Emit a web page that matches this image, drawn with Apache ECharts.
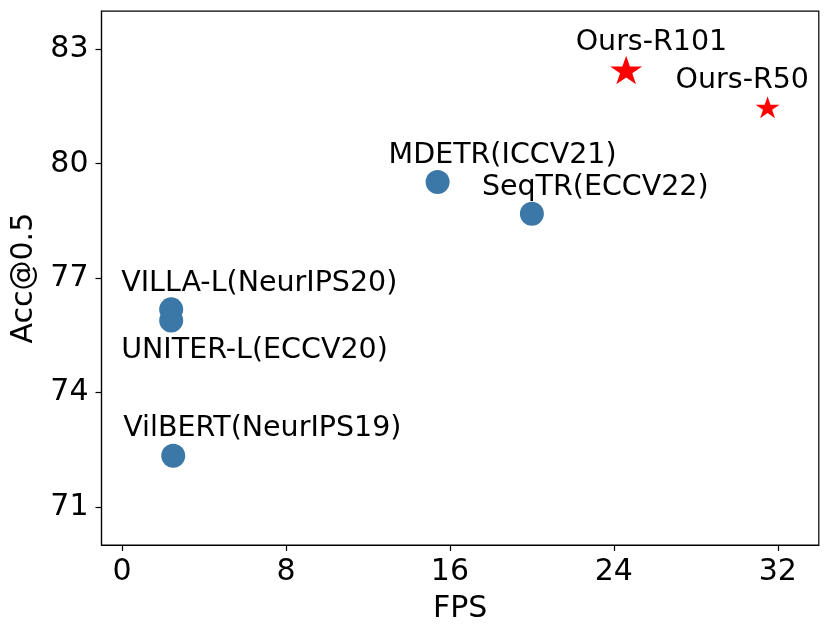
<!DOCTYPE html>
<html>
<head>
<meta charset="utf-8">
<script src="https://cdn.jsdelivr.net/npm/echarts@6/dist/echarts.min.js"></script>
<style>
html,body{margin:0;padding:0;background:#fff;}
#chart{width:830px;height:637px;}
</style>
</head>
<body>
<div id="chart"></div>
<script>
// Data
const methods = ['VILLA-L(NeurIPS20)', 'UNITER-L(ECCV20)', 'VilBERT(NeurIPS19)', 'MDETR(ICCV21)', 'SeqTR(ECCV22)'];
const methodFps = [2.4, 2.4, 2.5, 15.4, 20.0];
const methodAcc = [76.18, 75.89, 72.34, 79.52, 78.69];

const ours = ['Ours-R101', 'Ours-R50'];
const oursFps = [24.6, 31.5];
const oursAcc = [82.46, 81.48];

const xTicks = [0, 8, 16, 24, 32];
const yTicks = [71, 74, 77, 80, 83];

// Styling (label offsets in px, marker sizes)
const methodLabelOffsets = [[-50, -26], [-50, 30.5], [-50, -27], [-49, -26], [-50, -26]];
const oursLabelOffsets = [[-50.5, -27], [-92, -27]];
const oursSizes = [[32, 30], [24, 23]];

const FONT = 'DejaVu Sans';
const starPath = 'path://M0,-1 L0.2245,-0.309 L0.9511,-0.309 L0.3633,0.118 L0.5878,0.809 L0,0.382 L-0.5878,0.809 L-0.3633,0.118 L-0.9511,-0.309 L-0.2245,-0.309 Z';

const labelStyle = {
  show: true, position: 'inside', align: 'left', verticalAlign: 'middle',
  color: '#000', fontFamily: FONT, fontSize: 28.5,
  formatter: p => p.name
};

const methodData = methods.map((n, i) => ({
  name: n, value: [methodFps[i], methodAcc[i]],
  label: Object.assign({}, labelStyle, { offset: methodLabelOffsets[i] })
}));
const oursData = ours.map((n, i) => ({
  name: n, value: [oursFps[i], oursAcc[i]], symbolSize: oursSizes[i],
  label: Object.assign({}, labelStyle, { offset: oursLabelOffsets[i] })
}));

const axisCommon = {
  axisLine: { show: true, onZero: false, lineStyle: { color: '#000', width: 1.2 } },
  axisTick: { show: true, inside: false, length: 6, lineStyle: { color: '#000', width: 1.2 } },
  splitLine: { show: false },
  nameTextStyle: { color: '#000', fontFamily: FONT, fontSize: 30 }
};

const chart = echarts.init(document.getElementById('chart'), null, { renderer: 'canvas' });
chart.setOption({
  animation: false,
  backgroundColor: '#fff',
  grid: { left: 101.5, right: 11.2, top: 11.2, bottom: 92, show: true, borderColor: '#000', borderWidth: 1.2, containLabel: false },
  xAxis: Object.assign({}, axisCommon, {
    type: 'value', min: -1, max: 34, name: 'FPS', nameLocation: 'middle', nameGap: 49,
    axisLabel: {
      color: '#000', fontFamily: FONT, fontSize: 30, margin: 12,
      customValues: xTicks
    },
    axisTick: Object.assign({}, axisCommon.axisTick, { customValues: xTicks })
  }),
  yAxis: Object.assign({}, axisCommon, {
    type: 'value', min: 70, max: 84, name: 'Acc@0.5', nameLocation: 'middle', nameGap: 52,
    axisLabel: {
      color: '#000', fontFamily: FONT, fontSize: 30, margin: 13,
      customValues: yTicks
    },
    axisTick: Object.assign({}, axisCommon.axisTick, { customValues: yTicks })
  }),
  series: [
    {
      type: 'scatter', data: methodData, symbol: 'circle', symbolSize: 24,
      itemStyle: { color: '#3b77a7', opacity: 1 }
    },
    {
      type: 'scatter', data: oursData, symbol: starPath, symbolKeepAspect: true,
      itemStyle: { color: '#ff0000', opacity: 1 }
    }
  ]
});
</script>
</body>
</html>
